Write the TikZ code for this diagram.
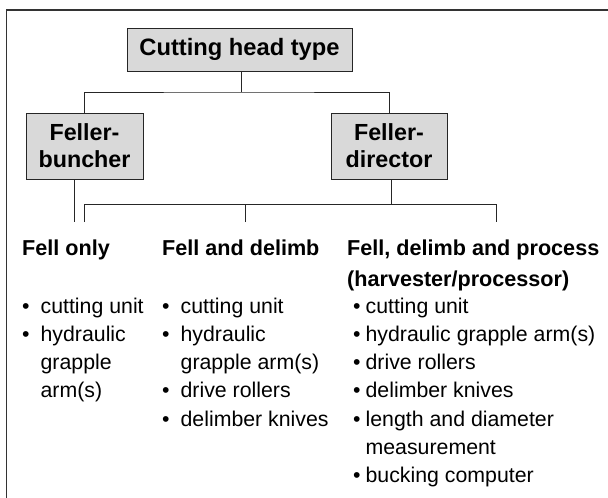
\documentclass[tikz,border=0pt]{standalone}
\usepackage{fontspec}
\setmainfont{Liberation Sans}
\usetikzlibrary{positioning}

\begin{document}
\begin{tikzpicture}[x=1pt, y=-1pt,
        headbox/.style={draw=black!85, fill=black!15, line width=0.8pt, inner sep=0pt,
            minimum height=66pt, align=center, font=\fontsize{23.3}{27}\selectfont\bfseries},
        heading/.style={anchor=base west, inner sep=0pt, font=\fontsize{21.6}{30}\selectfont\bfseries},
        items/.style={anchor=base west, inner sep=0pt, font=\fontsize{21.3}{28.3}\selectfont},
        link/.style={line width=0.8pt, black!85}]
        \useasboundingbox (0,0) rectangle (608,498);
        \draw[line width=1.2pt, black!80] (608,10) -- (6.5,10) -- (6.5,498);

        % boxes
        \node[headbox, minimum width=225pt, minimum height=43pt, font=\fontsize{23.7}{27}\selectfont\bfseries]
            (top) at (239.5,49.5) {Cutting head type};
        \node[headbox, minimum width=117pt] (buncher) at (84.5,146) {Feller-\\buncher};
        \node[headbox, minimum width=116pt] (director) at (389,146) {Feller-\\director};

        % connectors
        \coordinate (split) at (241,92);
        \coordinate (bar) at (391,204);
        \coordinate (onlyend) at (74,222);
        \draw[link] (top.south -| split) -- (split);
        \draw[link] (buncher.north) |- (split) -| (director.north);
        \draw[link] (buncher.south -| onlyend) -- (onlyend);
        \draw[link] (director.south -| bar) -- (bar);
        \foreach \name/\x in {dropa/84, dropb/245, dropc/496}
            \coordinate (\name) at (\x,222);
        \draw[link] (dropa) -- (dropa |- bar) -- (dropc |- bar) -- (dropc);
        \draw[link] (dropb) -- (dropb |- bar);

        % headings
        \node[heading] (fellonly) at (22,255) {Fell only};
        \node[heading] (felldelimb) at (162,255) {Fell and delimb};
        \node[heading] (fellproc) at (347,255) {Fell, delimb and process};
        \node[heading] (harvester) at (347,286) {(harvester/processor)};

        % item lists
        \node[items] (listonly) at (22,313) {%
            \begin{tabular}[t]{@{}l@{\hspace{11pt}}l@{}}
                \textbullet & cutting unit\\
                \textbullet & hydraulic\\
                & grapple\\
                & arm(s)
            \end{tabular}};
        \node[items] (listdelimb) at (162,313) {%
            \begin{tabular}[t]{@{}l@{\hspace{11pt}}l@{}}
                \textbullet & cutting unit\\
                \textbullet & hydraulic\\
                & grapple arm(s)\\
                \textbullet & drive rollers\\
                \textbullet & delimber knives
            \end{tabular}};
        \node[items] (listproc) at (353,313) {%
            \begin{tabular}[t]{@{}l@{\hspace{5pt}}l@{}}
                \textbullet & cutting unit\\
                \textbullet & hydraulic grapple arm(s)\\
                \textbullet & drive rollers\\
                \textbullet & delimber knives\\
                \textbullet & length and diameter\\
                & measurement\\
                \textbullet & bucking computer
            \end{tabular}};
    \end{tikzpicture}
\end{document}
